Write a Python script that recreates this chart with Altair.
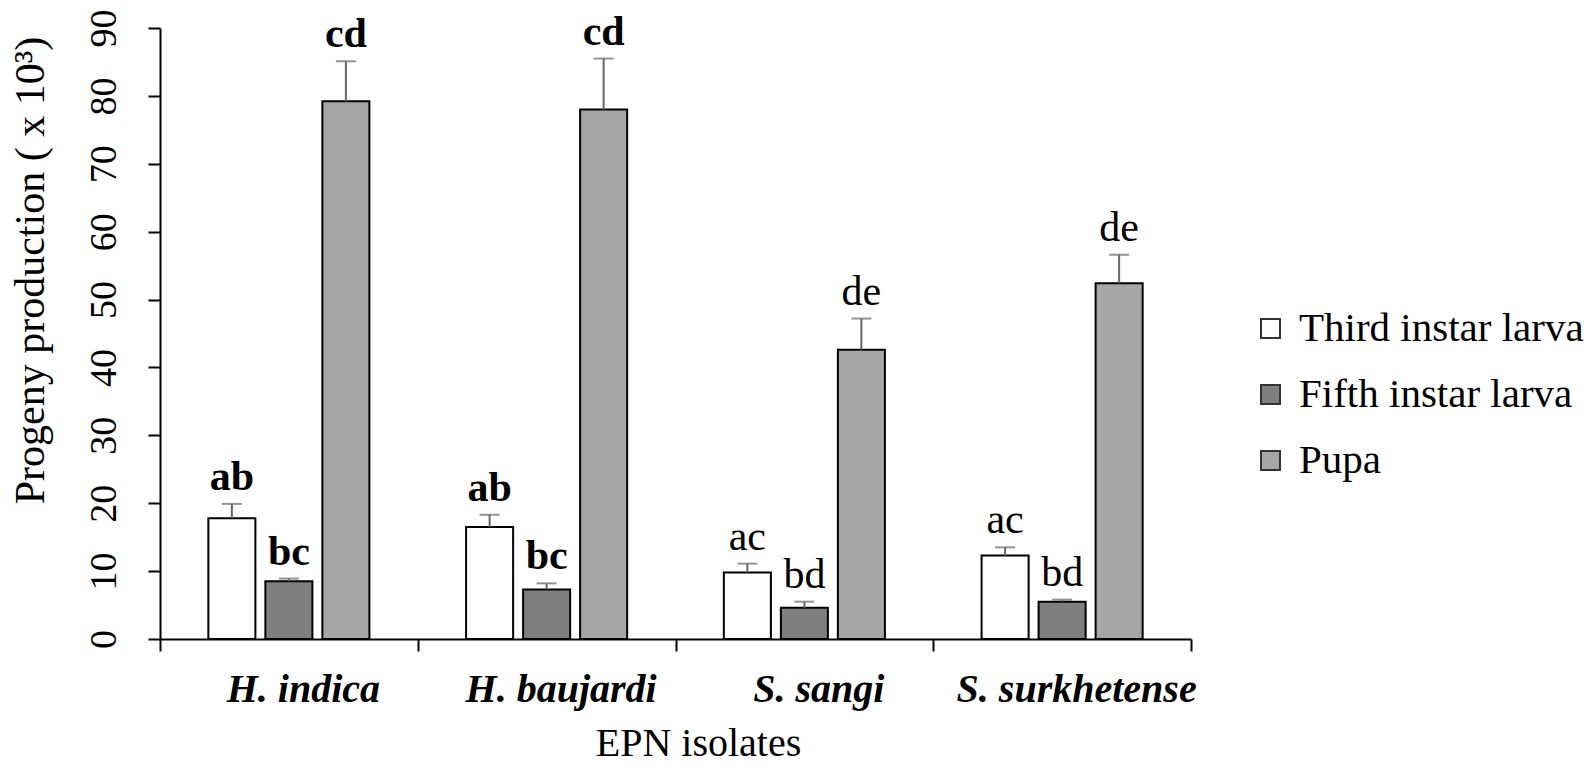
import altair as alt
import pandas as pd

isolates = ["H. indica", "H. baujardi", "S. sangi", "S. surkhetense"]
stages = ["Third instar larva", "Fifth instar larva", "Pupa"]
third_mean = [17.8, 16.5, 9.8, 12.3]
third_err = [2.1, 1.8, 1.3, 1.2]
fifth_mean = [8.5, 7.3, 4.6, 5.5]
fifth_err = [0.4, 0.9, 0.9, 0.3]
pupa_mean = [79.2, 78.0, 42.6, 52.4]
pupa_err = [5.9, 7.5, 4.6, 4.2]
third_letters = ["ab", "ab", "ac", "ac"]
fifth_letters = ["bc", "bc", "bd", "bd"]
pupa_letters = ["cd", "cd", "de", "de"]
bold_group = [True, True, False, False]
stage_colors = ["#ffffff", "#7f7f7f", "#a6a6a6"]
y_ticks = [0, 10, 20, 30, 40, 50, 60, 70, 80, 90]

rows = []
for stage, means, errs, letters in zip(
    stages,
    [third_mean, fifth_mean, pupa_mean],
    [third_err, fifth_err, pupa_err],
    [third_letters, fifth_letters, pupa_letters],
):
    for iso, m, e, l, b in zip(isolates, means, errs, letters, bold_group):
        rows.append(dict(isolate=iso, stage=stage, mean=m, upper=m + e, letter=l, bold=b))
df = pd.DataFrame(rows)

FONT = "Liberation Serif"

x_enc = alt.X(
    "isolate:N",
    sort=isolates,
    scale=alt.Scale(paddingInner=0, paddingOuter=0),
    axis=alt.Axis(
        title="EPN isolates",
        tickBand="extent",
        labelAngle=0,
        labelFont=FONT,
        labelFontSize=40,
        labelFontStyle="italic",
        labelFontWeight="bold",
        labelColor="black",
        labelLimit=0,
        labelPadding=18,
        labelOffset=14,
        ticks=True,
        tickSize=12,
        tickWidth=2,
        tickColor="black",
        domainColor="black",
        domainWidth=2,
        titleFont=FONT,
        titleFontSize=40,
        titleFontWeight="normal",
        titleColor="black",
        titleX=538,
        titleY=104,
        titleAlign="center",
        titleBaseline="middle",
    ),
)
xoff_enc = alt.XOffset(
    "stage:N", sort=stages, scale=alt.Scale(paddingInner=0.175, paddingOuter=0.848)
)

y_enc = alt.Y(
    "mean:Q",
    scale=alt.Scale(domain=[0, 90], nice=False),
    axis=alt.Axis(
        values=y_ticks,
        title="Progeny production ( x 10³)",
        labelAngle=270,
        labelAlign="center",
        labelBaseline="alphabetic",
        labelFont=FONT,
        labelFontSize=38,
        labelColor="black",
        labelPadding=33,
        tickSize=12,
        tickWidth=2,
        tickColor="black",
        domainColor="black",
        domainWidth=2,
        grid=False,
        titleFont=FONT,
        titleFontSize=42,
        titleFontWeight="normal",
        titleColor="black",
        titleAngle=270,
        titleX=-130,
        titleY=242,
        titleAlign="center",
        titleBaseline="middle",
    ),
)

base = alt.Chart(df)

bars = base.mark_bar(stroke="black", strokeWidth=2).encode(
    x=x_enc,
    xOffset=xoff_enc,
    y=y_enc,
    fill=alt.Fill(
        "stage:N",
        sort=stages,
        scale=alt.Scale(domain=stages, range=stage_colors),
        legend=alt.Legend(
            title=None,
            orient="none",
            legendX=1090,
            legendY=280,
            padding=0,
            symbolType="square",
            symbolSize=361,
            symbolStrokeColor="#333333",
            symbolStrokeWidth=2,
            labelFont=FONT,
            labelFontSize=41,
            labelColor="black",
            labelLimit=0,
            labelOffset=8,
            rowPadding=24,
        ),
    ),
)

stems = base.mark_rule(color="#666666", strokeWidth=2).encode(
    x=x_enc, xOffset=xoff_enc, y="mean:Q", y2="upper:Q"
)
caps = base.mark_tick(color="#666666", thickness=2, size=20, orient="horizontal").encode(
    x=x_enc, xOffset=xoff_enc, y="upper:Q"
)

labels_bold = base.transform_filter("datum.bold").mark_text(
    baseline="alphabetic", dy=-14, font=FONT, fontSize=42, fontWeight="bold", color="black"
).encode(x=x_enc, xOffset=xoff_enc, y="upper:Q", text="letter:N")

labels_norm = base.transform_filter("!datum.bold").mark_text(
    baseline="alphabetic", dy=-14, font=FONT, fontSize=42, fontWeight="normal", color="black"
).encode(x=x_enc, xOffset=xoff_enc, y="upper:Q", text="letter:N")

chart = (
    alt.layer(bars, stems, caps, labels_bold, labels_norm)
    .properties(
        width=1031,
        height=611,
        background="white",
        autosize=alt.AutoSizeParams(type="none"),
        padding={"left": 152, "top": 20, "right": 393, "bottom": 127},
    )
    .configure_view(strokeWidth=0, stroke="transparent")
)

chart.save("out.html", embed_options={"renderer": "svg", "actions": False})
